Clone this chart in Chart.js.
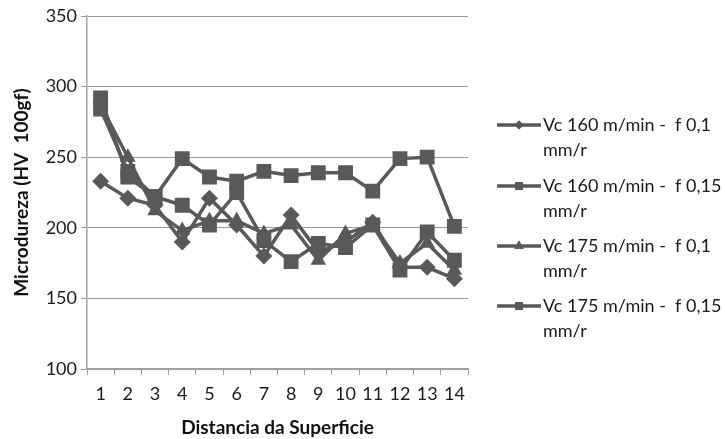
<!DOCTYPE html>
<html>
<head>
<meta charset="utf-8">
<script src="https://cdn.jsdelivr.net/npm/chart.js@4.4.0/dist/chart.umd.min.js"></script>
<style>
  html, body { margin: 0; padding: 0; background: #fff; }
  #wrap { width: 725px; height: 439px; }
</style>
</head>
<body>
<div id="wrap"><canvas id="c" width="725" height="439"></canvas></div>
<script>
// ---- data ----
const categories = ["1","2","3","4","5","6","7","8","9","10","11","12","13","14"];
const labelVc160f01  = ["Vc 160 m/min -  f 0,1", "mm/r"];
const labelVc160f015 = ["Vc 160 m/min -  f 0,15", "mm/r"];
const labelVc175f01  = ["Vc 175 m/min -  f 0,1", "mm/r"];
const labelVc175f015 = ["Vc 175 m/min -  f 0,15", "mm/r"];
const vc160f01  = [233, 221, 216, 190, 221, 202, 180, 209, 183, 190, 204, 172, 172, 164];
const vc160f015 = [284, 240, 222, 216, 202, 225, 191, 176, 189, 186, 202, 170, 197, 177];
const vc175f01  = [287, 250, 212, 198, 205, 205, 196, 202, 177, 196, 202, 175, 189, 170];
const vc175f015 = [292, 236, 222, 249, 236, 233, 240, 237, 239, 239, 226, 249, 250, 201];
const yTicks = [100, 150, 200, 250, 300, 350];

const GREY = '#595959';
const FONT = 'Lato, "Open Sans", sans-serif';

function ds(label, data, style, radius, order) {
  return {
    label: label,
    data: data,
    borderColor: GREY,
    backgroundColor: GREY,
    borderWidth: 3.5,
    pointStyle: style,
    pointRadius: radius,
    pointHoverRadius: radius,
    pointBorderWidth: 0,
    pointBackgroundColor: GREY,
    tension: 0,
    order: order
  };
}

const legendPlugin = {
  id: 'sideLegend',
  afterDraw(chart) {
    const ctx = chart.ctx;
    const x0 = 497, x1 = 541, tx = 543;
    const ys = [125, 186, 246, 306];
    const radii = [4.5, 5.5, 5.5, 5.5];
    ctx.save();
    chart.data.datasets.forEach((d, i) => {
      const y = ys[i];
      ctx.strokeStyle = GREY;
      ctx.lineWidth = 3.5;
      ctx.beginPath();
      ctx.moveTo(x0, y);
      ctx.lineTo(x1, y);
      ctx.stroke();
      ctx.fillStyle = GREY;
      ctx.beginPath();
      Chart.helpers.drawPoint(ctx, {pointStyle: d.pointStyle, radius: radii[i], rotation: 0, borderWidth: 0}, (x0 + x1) / 2, y);
      ctx.fill();
      ctx.fillStyle = '#1a1a1a';
      ctx.font = '18px ' + FONT;
      ctx.textBaseline = 'middle';
      ctx.textAlign = 'left';
      const lines = Array.isArray(d.label) ? d.label : [d.label];
      lines.forEach((t, k) => ctx.fillText(t, tx, y + k * 25));
    });
    ctx.restore();
  }
};

new Chart(document.getElementById('c'), {
  type: 'line',
  data: {
    labels: categories,
    datasets: [
      ds(labelVc160f01, vc160f01, 'rectRot', 8.5, 3),
      ds(labelVc160f015, vc160f015, 'rect', 10.5, 2),
      ds(labelVc175f01, vc175f01, 'triangle', 9, 1),
      ds(labelVc175f015, vc175f015, 'rect', 10.5, 0)
    ]
  },
  options: {
    responsive: false,
    animation: false,
    devicePixelRatio: 1,
    layout: { padding: { left: 10, right: 257, top: 16, bottom: 0 } },
    plugins: {
      legend: { display: false },
      tooltip: { enabled: false }
    },
    scales: {
      x: {
        offset: true,
        grid: { offset: true, drawOnChartArea: false, drawTicks: true, tickLength: 6, color: '#a0a0a0', lineWidth: 1 },
        border: { color: '#a0a0a0', width: 1.5 },
        ticks: { color: '#1a1a1a', font: { family: FONT, size: 18 }, padding: 8, maxRotation: 0, autoSkip: false },
        title: { display: true, text: 'Distancia da Superficie', color: '#111', font: { family: FONT, size: 19, weight: 'bold' }, padding: { top: 5, bottom: 0 } },
        afterFit(s) { s.height = 70; }
      },
      y: {
        min: 100,
        max: 350,
        afterBuildTicks(s) { s.ticks = yTicks.map(v => ({ value: v })); },
        grid: { color: '#9a9a9a', lineWidth: 1, drawTicks: true, tickLength: 6 },
        border: { color: '#a0a0a0', width: 1.5 },
        ticks: { color: '#1a1a1a', font: { family: FONT, size: 18 }, padding: 4 },
        title: { display: true, text: 'Microdureza (HV  100gf)', color: '#111', font: { family: FONT, size: 19, weight: 'bold' }, padding: { top: 0, bottom: 4 } },
        afterFit(s) { s.width = 77; }
      }
    }
  },
  plugins: [legendPlugin]
});
</script>
</body>
</html>
